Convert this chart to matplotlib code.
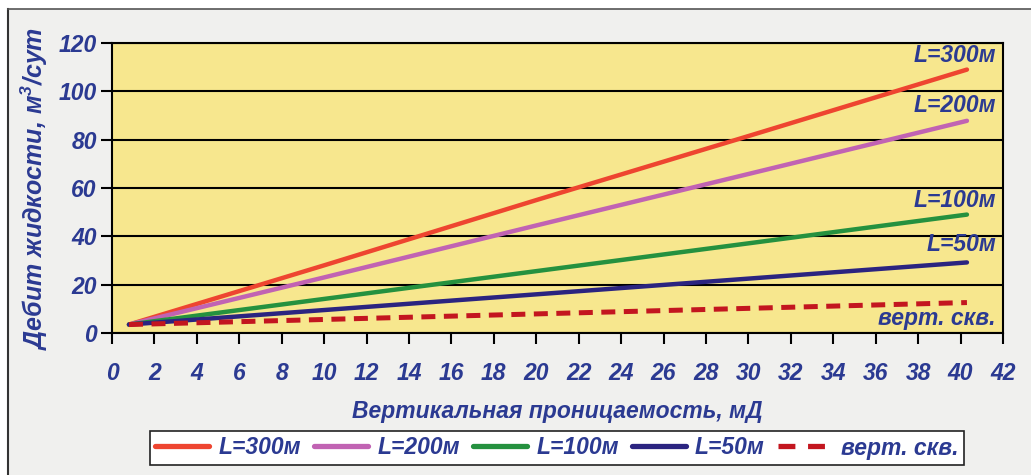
import matplotlib.pyplot as plt
from matplotlib.lines import Line2D

# данные (читаются с графика)
perm = [0.8, 10, 20, 30, 40.3]
q_300 = [3.5, 28.0, 55.0, 81.5, 109.0]
q_200 = [3.5, 23.0, 44.5, 65.8, 87.8]
q_100 = [3.5, 14.1, 25.6, 37.1, 49.0]
q_50 = [3.5, 9.5, 16.0, 22.5, 29.2]
q_vert = [3.5, 5.6, 7.9, 10.2, 12.6]

series = ['L=300м', 'L=200м', 'L=100м', 'L=50м', 'верт. скв.']
colors = ['#ee4530', '#c163b3', '#25913f', '#2b2480', '#c3161f']
xticks = list(range(0, 43, 2))
yticks = list(range(0, 121, 20))

txt = '#2b3a92'
fs = 16.5
plt.rcParams['font.family'] = ['Liberation Sans', 'DejaVu Sans']
plt.rcParams['font.weight'] = 'bold'
plt.rcParams['font.style'] = 'italic'
plt.rcParams['axes.labelweight'] = 'bold'

fig = plt.figure(figsize=(10.31, 4.75), dpi=100)
fig.patch.set_facecolor('white')
# серый фон с рамкой
fig.patches.append(plt.Rectangle((8 / 1031, 0), 1, 1 - 9 / 475, transform=fig.transFigure,
                                 facecolor='#f0f0ee', edgecolor='none', zorder=-5))
fig.lines.append(Line2D([8 / 1031, 8 / 1031], [0, 1 - 9 / 475], transform=fig.transFigure,
                        color='#333333', lw=1.5))
fig.lines.append(Line2D([8 / 1031, 1], [1 - 9 / 475, 1 - 9 / 475], transform=fig.transFigure,
                        color='#555555', lw=1.2))

ax = fig.add_axes([112 / 1031, 1 - 333 / 475, (1003 - 112) / 1031, (333 - 43) / 475])
ax.set_facecolor('#f7e78e')

lw = 3.2
ax.plot(perm, q_300, color=colors[0], lw=lw, solid_capstyle='round', label=series[0])
ax.plot(perm, q_200, color=colors[1], lw=lw, solid_capstyle='round', label=series[1])
ax.plot(perm, q_100, color=colors[2], lw=lw, solid_capstyle='round', label=series[2])
ax.plot(perm, q_50, color=colors[3], lw=lw, solid_capstyle='round', label=series[3])
ax.plot(perm, q_vert, color=colors[4], lw=3.6, dashes=(2.8, 1.7), label=series[4])

ax.set_xlim(0, 42)
ax.set_ylim(0, 120)
ax.set_xticks(xticks)
ax.set_yticks(yticks)
ax.grid(axis='y', color='black', lw=1.5)
ax.set_axisbelow(True)
for s in ax.spines.values():
    s.set_color('black')
    s.set_linewidth(1.5)
ax.tick_params(axis='both', direction='out', length=8, width=1.5, color='black',
               labelsize=fs, labelcolor=txt)
ax.tick_params(axis='x', pad=13)
ax.tick_params(axis='y', pad=3)

ax.set_xlabel('Вертикальная проницаемость, мД', fontsize=fs, color=txt, labelpad=11,
              fontweight='bold')
ax.set_ylabel('Дебит жидкости, м$^{\\mathregular{3}}$/сут', fontsize=18, color=txt, labelpad=6,
              fontweight='bold')

# подписи кривых
lab_y = [115, 94, 55, 36.5, 5.8]
for name, yy in zip(series, lab_y):
    ax.text(0.992, yy, name, transform=ax.get_yaxis_transform(), ha='right', va='center',
            fontsize=fs, color=txt, fontweight='bold')

leg = fig.legend(loc='center', bbox_to_anchor=(557 / 1031, 1 - 448 / 475), ncol=5,
                 prop={'size': fs, 'weight': 'bold', 'style': 'italic'},
                 frameon=True, fancybox=False, handlelength=2.36,
                 columnspacing=0.57, handletextpad=0.4, borderpad=0.25)
leg.get_frame().set_edgecolor('#222222')
leg.get_frame().set_linewidth(1.2)
leg.get_frame().set_facecolor('white')
leg.get_frame().set_alpha(1)
for t in leg.get_texts():
    t.set_color(txt)
for h in leg.get_lines():
    h.set_linewidth(3.8)
leg.get_lines()[-1].set_dashes((3.2, 2.4))

fig.savefig('out.png', dpi=100, facecolor=fig.get_facecolor())
